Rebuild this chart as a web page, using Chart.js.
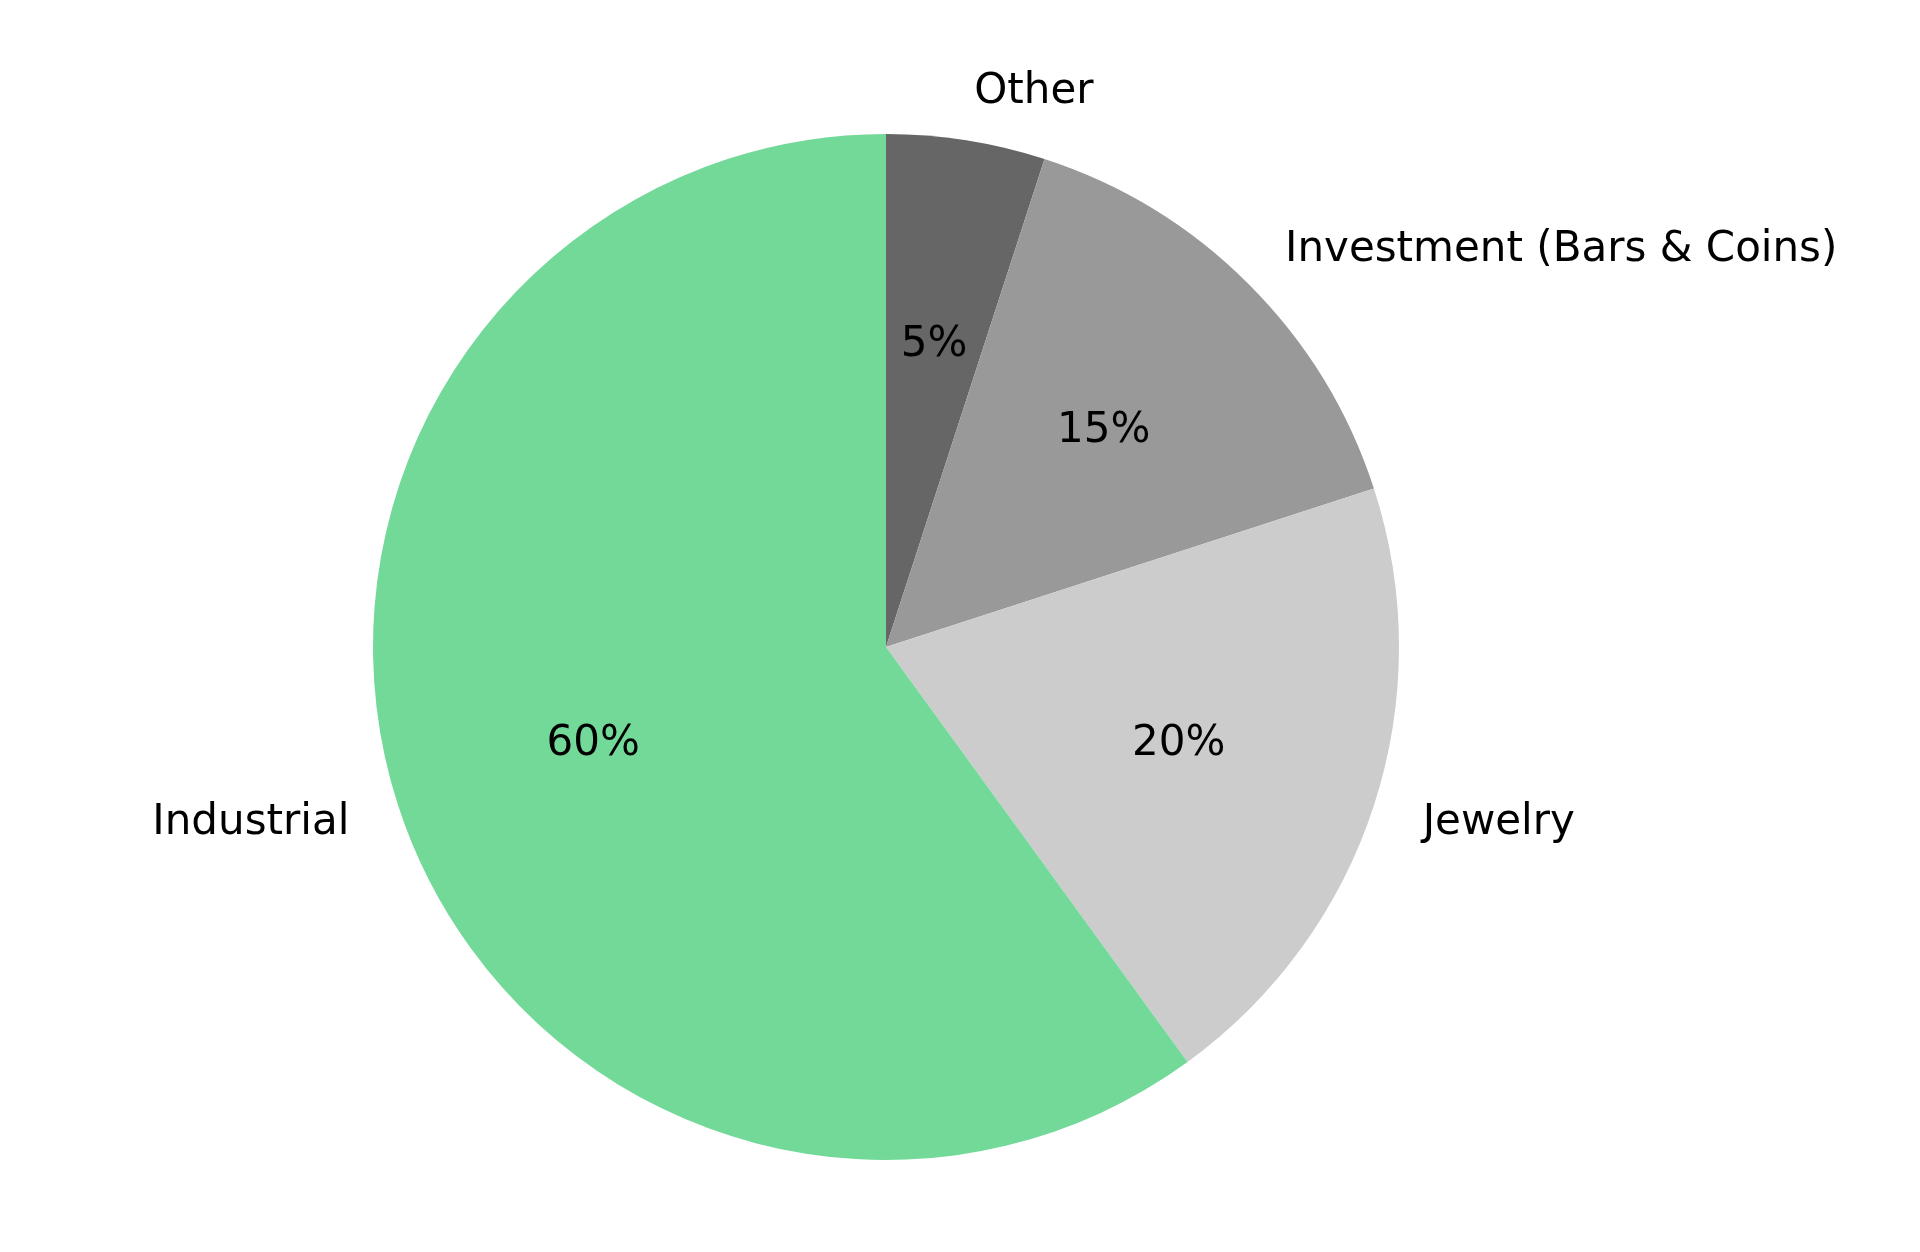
<!DOCTYPE html>
<html>
  <head>
    <meta charset="utf-8" />
    <title>Silver Demand by Sector</title>
    <style>
        html, body {
            margin: 0;
            padding: 0;
            background: #ffffff;
            overflow: hidden;
        }
        #wrap {
            width: 1920px;
            height: 1252px;
        }
    </style>
  </head>
  <body>
    <script src="https://cdn.jsdelivr.net/npm/chart.js@4/dist/chart.umd.min.js"></script>
    <div id="wrap"><canvas id="chart"></canvas></div>

    <script>
        // slices listed clockwise from 12 o'clock
        const categories = ["Other", "Investment (Bars & Coins)", "Jewelry", "Industrial"];
        const shares = [5, 15, 20, 60];
        const sliceColors = ["#666666", "#999999", "#cccccc", "#72d999"];

        const FONT = "'DejaVu Sans', sans-serif";

        // draws outside names at 1.1 r and percentages at 0.6 r, like matplotlib
        const pieText = {
          id: "pieText",
          afterDatasetsDraw(chart) {
            const ctx = chart.ctx;
            const meta = chart.getDatasetMeta(0);
            const total = shares.reduce((a, b) => a + b, 0);
            ctx.save();
            ctx.fillStyle = "#000000";
            ctx.font = "42px " + FONT;
            ctx.textBaseline = "middle";
            meta.data.forEach((arc, i) => {
              const p = arc.getProps(["x", "y", "startAngle", "endAngle", "outerRadius"], true);
              const mid = (p.startAngle + p.endAngle) / 2;
              const cx = Math.cos(mid), cy = Math.sin(mid);
              // category label
              ctx.textAlign = cx >= 0 ? "left" : "right";
              ctx.fillText(categories[i], p.x + cx * p.outerRadius * 1.1, p.y + cy * p.outerRadius * 1.1 + 2);
              // percentage
              ctx.textAlign = "center";
              const pct = Math.round(shares[i] / total * 100) + "%";
              ctx.fillText(pct, p.x + cx * p.outerRadius * 0.6, p.y + cy * p.outerRadius * 0.6 + 2);
            });
            ctx.restore();
          }
        };

        new Chart("chart", {
          type: "pie",
          data: {
            labels: categories,
            datasets: [{
              data: shares,
              backgroundColor: sliceColors,
              borderWidth: 0
            }]
          },
          options: {
            responsive: true,
            maintainAspectRatio: false,
            animation: false,
            layout: { padding: { top: 134, bottom: 92, left: 1, right: 149 } },
            plugins: {
              legend: { display: false },
              tooltip: { enabled: false }
            }
          },
          plugins: [pieText]
        });
    </script>
  </body>
</html>
